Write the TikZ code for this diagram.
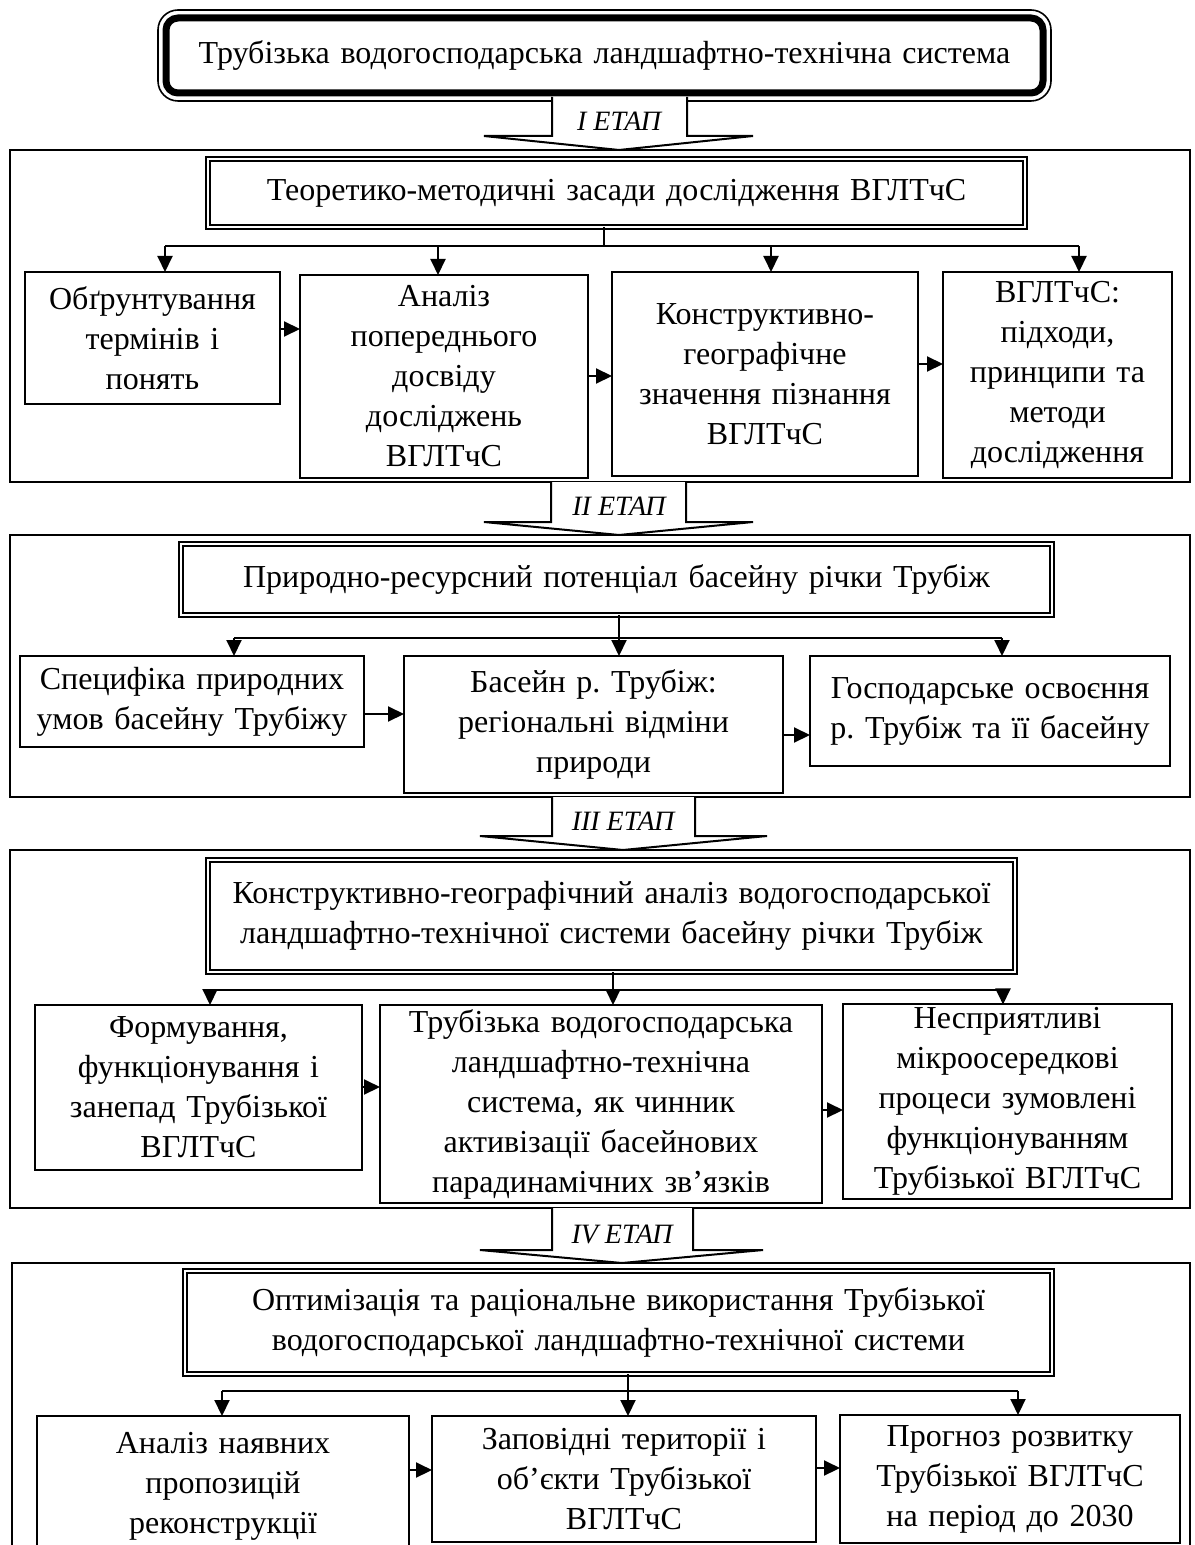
\documentclass[tikz,border=0pt]{standalone}
\usepackage{fontspec}
\setmainfont{Liberation Serif}
\frenchspacing
\usetikzlibrary{arrows.meta}
\tikzset{
  every node/.style={font=\fontsize{16}{20}\selectfont},
  plain/.style={draw, line width=1pt, inner sep=1.5pt, outer sep=0pt, align=center},
  dbl/.style={draw, line width=0.8pt, double, double distance=1.4pt, inner sep=1.5pt, outer sep=0pt, align=center},
  framebox/.style={draw, line width=1pt, inner sep=0pt, outer sep=0pt},
  topbox/.style={draw, line width=3.5pt, rounded corners=6pt, inner sep=0pt, outer sep=0pt, align=center},
  arr/.style={line width=1pt, -{Triangle[length=8pt,width=7.5pt]}},
  conn/.style={line width=1pt},
  stagearrow/.style={draw, fill=white, line width=1pt, line join=miter},
  stagelabel/.style={font=\fontsize{14}{16}\selectfont\itshape, inner sep=0pt},
}
\newcommand\mkbox[7]{%
  \pgfmathsetmacro\bxw{(#5-#3)*0.5}%
  \pgfmathsetmacro\bxh{(#6-#4)*0.5}%
  \pgfmathsetmacro\bxtw{(#5-#3)*0.5-3}%
  \pgfmathsetmacro\bxcx{(#3+#5)/2}%
  \pgfmathsetmacro\bxcy{(#4+#6)/2}%
  \node[#1, minimum width=\bxw pt, minimum height=\bxh pt, text width=\bxtw pt] (#2) at (\bxcx,\bxcy) {#7};}
\begin{document}
\begin{tikzpicture}[x=0.5pt,y=-0.5pt]
\useasboundingbox (0,0) rectangle (1194,1545);
\clip (0,0) rectangle (1194,1545);
\fill[white] (0,0) rectangle (1194,1545);

% ---------- top box ----------
\mkbox{topbox}{top}{166}{18}{1043}{93}{Трубізька водогосподарська ландшафтно-технічна система}
\draw[line width=0.8pt, rounded corners=10pt] ([shift={(-4pt,4pt)}]top.north west) rectangle ([shift={(4pt,-4pt)}]top.south east);

% ---------- frames ----------
\mkbox{framebox}{f1}{10}{150}{1190}{482}{}
\mkbox{framebox}{f2}{10}{535}{1190}{797}{}
\mkbox{framebox}{f3}{10}{850}{1190}{1208}{}
\mkbox{framebox}{f4}{12}{1263}{1190}{1600}{}

% ---------- stage arrows ----------
\draw[stagearrow] (552,97) -- (552,136) -- (484,136) -- (619,150) -- (753,136) -- (687,136) -- (687,97);
\node[stagelabel] (s1) at (619,121) {I ЕТАП};
\draw[stagearrow] (551,482) -- (551,522) -- (484,522) -- (619,535) -- (753,522) -- (686,522) -- (686,482);
\node[stagelabel] (s2) at (619,506) {II ЕТАП};
\draw[stagearrow] (552,797) -- (552,836) -- (480,836) -- (623,850) -- (767,836) -- (695,836) -- (695,797);
\node[stagelabel] (s3) at (623,821) {III ЕТАП};
\draw[stagearrow] (552,1208) -- (552,1250) -- (480,1250) -- (622,1263) -- (763,1250) -- (693,1250) -- (693,1208);
\node[stagelabel] (s4) at (622,1234) {IV ЕТАП};

% ---------- stage 1 ----------
\mkbox{dbl}{d1}{208}{159}{1025}{227}{Теоретико-методичні засади дослідження ВГЛТчС}
\mkbox{plain}{b1}{25}{272}{280}{404}{Обґрунтування\\термінів і\\понять}
\mkbox{plain}{b2}{300}{275}{588}{478}{Аналіз\\попереднього\\досвіду\\досліджень\\ВГЛТчС}
\mkbox{plain}{b3}{612}{272}{918}{476}{Конструктивно-\\географічне\\значення пізнання\\ВГЛТчС}
\mkbox{plain}{b4}{943}{272}{1172}{478}{ВГЛТчС:\\підходи,\\принципи та\\методи\\дослідження}
\coordinate (j1) at (604,246);
\coordinate (h11) at (165,246);
\coordinate (h12) at (438,246);
\coordinate (h13) at (771,246);
\coordinate (h14) at (1079,246);
\draw[conn] (d1.south -| j1) -- (j1);
\draw[conn] (h11) -- (h14);
\draw[arr] (h11) -- (h11 |- b1.north);
\draw[arr] (h12) -- (h12 |- b2.north);
\draw[arr] (h13) -- (h13 |- b3.north);
\draw[arr] (h14) -- (h14 |- b4.north);
\draw[arr] (b1.east |- 0,329) -- (b2.west |- 0,329);
\draw[arr] (b2.east |- 0,376) -- (b3.west |- 0,376);
\draw[arr] (b3.east |- 0,364) -- (b4.west |- 0,364);

% ---------- stage 2 ----------
\mkbox{dbl}{d2}{181}{544}{1052}{615}{Природно-ресурсний потенціал басейну річки Трубіж}
\mkbox{plain}{c1}{20}{656}{364}{747}{Специфіка природних\\умов басейну Трубіжу}
\mkbox{plain}{c2}{404}{656}{783}{793}{Басейн р. Трубіж:\\регіональні відміни\\природи}
\mkbox{plain}{c3}{810}{656}{1170}{766}{Господарське освоєння\\р. Трубіж та її басейну}
\coordinate (j2) at (619,638);
\coordinate (h21) at (234,638);
\coordinate (h23) at (1002,638);
\draw[arr] (d2.south -| j2) -- (j2 |- c2.north);
\draw[conn] (h21) -- (h23);
\draw[arr] (h21) -- (h21 |- c1.north);
\draw[arr] (h23) -- (h23 |- c3.north);
\draw[arr] (c1.east |- 0,714) -- (c2.west |- 0,714);
\draw[arr] (c2.east |- 0,735) -- (c3.west |- 0,735);

% ---------- stage 3 ----------
\mkbox{dbl}{d3}{208}{860}{1015}{972}{Конструктивно-географічний аналіз водогосподарської\\ландшафтно-технічної системи басейну річки Трубіж}
\mkbox{plain}{e1}{35}{1005}{362}{1170}{Формування,\\функціонування і\\занепад Трубізької\\ВГЛТчС}
\mkbox{plain}{e2}{380}{1005}{822}{1203}{Трубізька водогосподарська\\ландшафтно-технічна\\система, як чинник\\активізації басейнових\\парадинамічних зв’язків}
\mkbox{plain}{e3}{843}{1005}{1172}{1198}{Несприятливі\\мікроосередкові\\процеси зумовлені\\функціонуванням\\Трубізької ВГЛТчС}
\coordinate (j3) at (613,990);
\coordinate (h31) at (210,990);
\coordinate (h33) at (1003,990);
\draw[arr] (d3.south -| j3) -- (j3 |- e2.north);
\draw[conn] (h31) -- (h33);
\draw[arr] (h31) -- (h31 |- e1.north);
\draw[arr] (h33) -- (h33 |- e3.north);
\draw[arr] (e1.east |- 0,1087) -- (e2.west |- 0,1087);
\draw[arr] (e2.east |- 0,1110) -- (e3.west |- 0,1110);

% ---------- stage 4 ----------
\mkbox{dbl}{d4}{185}{1271}{1052}{1374}{Оптимізація та раціональне використання Трубізької\\водогосподарської ландшафтно-технічної системи}
\mkbox{plain}{g1}{37}{1416}{409}{1556}{Аналіз наявних\\пропозицій\\реконструкції}
\mkbox{plain}{g2}{432}{1416}{816}{1542}{Заповідні території і\\об’єкти Трубізької\\ВГЛТчС}
\mkbox{plain}{g3}{840}{1415}{1180}{1543}{Прогноз розвитку\\Трубізької ВГЛТчС\\на період до 2030}
\coordinate (j4) at (628,1391);
\coordinate (h41) at (222,1391);
\coordinate (h43) at (1018,1391);
\draw[arr] (d4.south -| j4) -- (j4 |- g2.north);
\draw[conn] (h41) -- (h43);
\draw[arr] (h41) -- (h41 |- g1.north);
\draw[arr] (h43) -- (h43 |- g3.north);
\draw[arr] (g1.east |- 0,1470) -- (g2.west |- 0,1470);
\draw[arr] (g2.east |- 0,1468) -- (g3.west |- 0,1468);
\end{tikzpicture}
\end{document}
